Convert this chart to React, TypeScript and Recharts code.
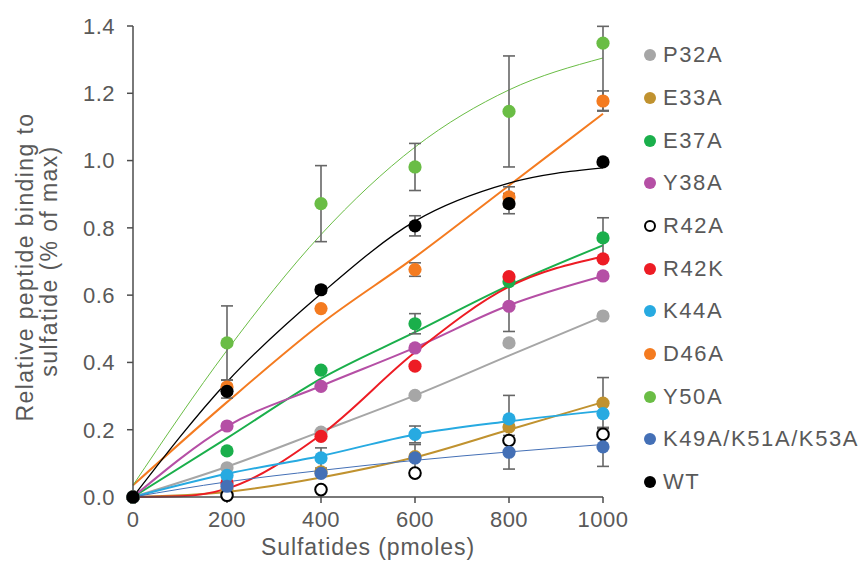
import { ComposedChart, ErrorBar, Line, Scatter, XAxis, YAxis } from 'recharts'

const doses = [0, 200, 400, 600, 800, 1000]
const xTicks = [0, 200, 400, 600, 800, 1000]
const yTicks = [0, 0.2, 0.4, 0.6, 0.8, 1.0, 1.2, 1.4]

// measured means
const p32a = [0, 0.087, 0.193, 0.302, 0.458, 0.538]
const e33a = [0, 0.02, 0.075, 0.12, 0.208, 0.279]
const e37a = [0, 0.137, 0.377, 0.515, 0.64, 0.77]
const y38a = [0, 0.211, 0.329, 0.443, 0.567, 0.657]
const r42a = [0, 0.005, 0.022, 0.071, 0.168, 0.186]
const r42k = [0, 0.042, 0.18, 0.389, 0.655, 0.708]
const k44a = [0, 0.064, 0.116, 0.186, 0.232, 0.248]
const d46a = [0, 0.327, 0.56, 0.676, 0.892, 1.177]
const y50a = [0, 0.458, 0.872, 0.981, 1.146, 1.349]
const k49a = [0, 0.032, 0.07, 0.116, 0.133, 0.149]
const wt = [0, 0.314, 0.616, 0.806, 0.872, 0.996]

// error bars (sd)
const p32aErr = [0, 0, 0, 0, 0, 0]
const e33aErr = [0, 0, 0, 0, 0, 0.076]
const e37aErr = [0, 0, 0, 0.03, 0, 0.06]
const y38aErr = [0, 0, 0, 0, 0.075, 0]
const r42aErr = [0, 0, 0, 0, 0, 0]
const r42kErr = [0, 0, 0, 0, 0, 0]
const k44aErr = [0, 0, 0.03, 0.025, 0.07, 0]
const d46aErr = [0, 0.02, 0, 0.02, 0.03, 0.03]
const y50aErr = [0, 0.11, 0.113, 0.07, 0.165, 0.2]
const k49aErr = [0, 0, 0, 0.04, 0.05, 0.058]
const wtErr = [0, 0.02, 0.01, 0.03, 0.03, 0]

// trend lines at each dose
const r42kFitDoses = [0, 100, 200, 400, 600, 800, 1000]
const p32aFit = [0, 0.09, 0.195, 0.302, 0.42, 0.537]
const e33aFit = [0, 0.015, 0.058, 0.118, 0.2, 0.282]
const e37aFit = [0, 0.175, 0.352, 0.49, 0.629, 0.748]
const y38aFit = [0, 0.21, 0.33, 0.444, 0.57, 0.657]
const r42kFit = [0, 0.002, 0.025, 0.185, 0.43, 0.625, 0.715]
const k44aFit = [0, 0.069, 0.122, 0.186, 0.225, 0.256]
const d46aFit = [0.035, 0.282, 0.515, 0.713, 0.926, 1.139]
const y50aFit = [0.035, 0.436, 0.78, 1.04, 1.21, 1.305]
const k49aFit = [0, 0.045, 0.079, 0.109, 0.134, 0.156]
const wtFit = [0, 0.342, 0.604, 0.82, 0.933, 0.978]

const FONT = '"Liberation Sans", Arial, Helvetica, sans-serif'
const TEXT = '#595959'
const AXIS = '#4d4d4d'
const Y_MAX = 1.4

interface SeriesDef {
  name: string
  color: string
  values: number[]
  errors: number[]
  fit?: number[]
  fitDoses?: number[]
  fitWidth?: number
  open?: boolean
}

const series: SeriesDef[] = [
  { name: 'P32A', color: '#a6a6a6', values: p32a, errors: p32aErr, fit: p32aFit, fitWidth: 2 },
  { name: 'E33A', color: '#c0922f', values: e33a, errors: e33aErr, fit: e33aFit, fitWidth: 2 },
  { name: 'E37A', color: '#1aaf4b', values: e37a, errors: e37aErr, fit: e37aFit, fitWidth: 2 },
  { name: 'Y38A', color: '#b54fa5', values: y38a, errors: y38aErr, fit: y38aFit, fitWidth: 2 },
  { name: 'R42A', color: '#000000', values: r42a, errors: r42aErr, open: true },
  { name: 'R42K', color: '#ed1c24', values: r42k, errors: r42kErr, fit: r42kFit, fitDoses: r42kFitDoses, fitWidth: 2 },
  { name: 'K44A', color: '#27aae1', values: k44a, errors: k44aErr, fit: k44aFit, fitWidth: 2 },
  { name: 'D46A', color: '#f47b20', values: d46a, errors: d46aErr, fit: d46aFit, fitWidth: 2 },
  { name: 'Y50A', color: '#6abd45', values: y50a, errors: y50aErr, fit: y50aFit, fitWidth: 1 },
  { name: 'K49A/K51A/K53A', color: '#4470b6', values: k49a, errors: k49aErr, fit: k49aFit, fitWidth: 1 },
  { name: 'WT', color: '#000000', values: wt, errors: wtErr, fit: wtFit, fitWidth: 1.3 },
]

const pointsOf = (s: SeriesDef) =>
  doses.map((x, i) => ({
    x,
    y: s.values[i],
    // upper arm stops at the top of the axis, as in the figure
    err: [s.errors[i], Math.min(s.errors[i], Y_MAX - s.values[i] - 0.001)],
  }))

const fitOf = (s: SeriesDef) => (s.fitDoses ?? doses).map((x, i) => ({ x, y: s.fit![i] }))

const makeDot = (color: string, open?: boolean) => (props: any) => (
  <circle
    cx={props.cx}
    cy={props.cy}
    r={open ? 5.8 : 6.6}
    fill={open ? '#ffffff' : color}
    stroke={open ? '#000000' : 'none'}
    strokeWidth={open ? 2 : 0}
  />
)

const YTitle = () => (
  <text transform="rotate(-90)" textAnchor="middle" fill={TEXT} fontSize={23} letterSpacing={1.4} fontFamily={FONT}>
    <tspan x={-267} y={33}>Relative peptide binding to</tspan>
    <tspan x={-261} y={57}>sulfatide (% of max)</tspan>
  </text>
)

const XTitle = () => (
  <text x={368} y={555} textAnchor="middle" fill={TEXT} fontSize={23} letterSpacing={0.9} fontFamily={FONT}>
    Sulfatides (pmoles)
  </text>
)

const LegendBox = () => (
  <div style={{ position: 'absolute', left: 644, top: 34, fontFamily: FONT }}>
    {series.map((s) => (
      <div key={s.name} style={{ height: 42.67, display: 'flex', alignItems: 'center' }}>
        <span
          style={{
            width: s.open ? 8 : 12,
            height: s.open ? 8 : 12,
            borderRadius: '50%',
            background: s.open ? '#fff' : s.color,
            border: s.open ? '2px solid #000' : 'none',
            marginRight: 7,
            flexShrink: 0,
          }}
        />
        <span style={{ fontSize: 22, color: TEXT, letterSpacing: 1.6, whiteSpace: 'nowrap' }}>{s.name}</span>
      </div>
    ))}
  </div>
)

export default function App() {
  return (
    <div style={{ position: 'absolute', left: 0, top: 0, width: 865, height: 564, background: '#fff' }}>
      <ComposedChart
        width={865}
        height={564}
        margin={{ top: 26, right: 262, bottom: 7, left: 0 }}
        style={{ fontFamily: FONT }}
      >
        <XAxis
          type="number"
          dataKey="x"
          domain={[0, 1000]}
          ticks={xTicks}
          interval={0}
          height={60}
          tickSize={6}
          tickMargin={8}
          axisLine={{ stroke: AXIS, strokeWidth: 1.5 }}
          tickLine={{ stroke: AXIS, strokeWidth: 1.5 }}
          tick={{ fill: TEXT, fontSize: 22, letterSpacing: 0.5 }}
          label={<XTitle />}
        />
        <YAxis
          type="number"
          dataKey="y"
          domain={[0, Y_MAX]}
          ticks={yTicks}
          interval={0}
          width={133}
          tickSize={6}
          tickMargin={12}
          axisLine={{ stroke: AXIS, strokeWidth: 1.5 }}
          tickLine={{ stroke: AXIS, strokeWidth: 1.5 }}
          tick={{ fill: TEXT, fontSize: 22, letterSpacing: 0.5 }}
          tickFormatter={(v: number) => v.toFixed(1)}
          label={<YTitle />}
        />
        {series
          .filter((s) => s.fit)
          .map((s) => (
            <Line
              key={`fit-${s.name}`}
              data={fitOf(s)}
              dataKey="y"
              type="monotone"
              stroke={s.color}
              strokeWidth={s.fitWidth}
              dot={false}
              activeDot={false}
              legendType="none"
              isAnimationActive={false}
            />
          ))}
        {series.map((s) => (
          <Scatter
            key={s.name}
            name={s.name}
            data={pointsOf(s)}
            dataKey="y"
            shape={makeDot(s.color, s.open)}
            isAnimationActive={false}
          >
            <ErrorBar dataKey="err" direction="y" width={6} stroke="#666666" strokeWidth={1.6} isAnimationActive={false} />
          </Scatter>
        ))}
      </ComposedChart>
      <LegendBox />
    </div>
  )
}
